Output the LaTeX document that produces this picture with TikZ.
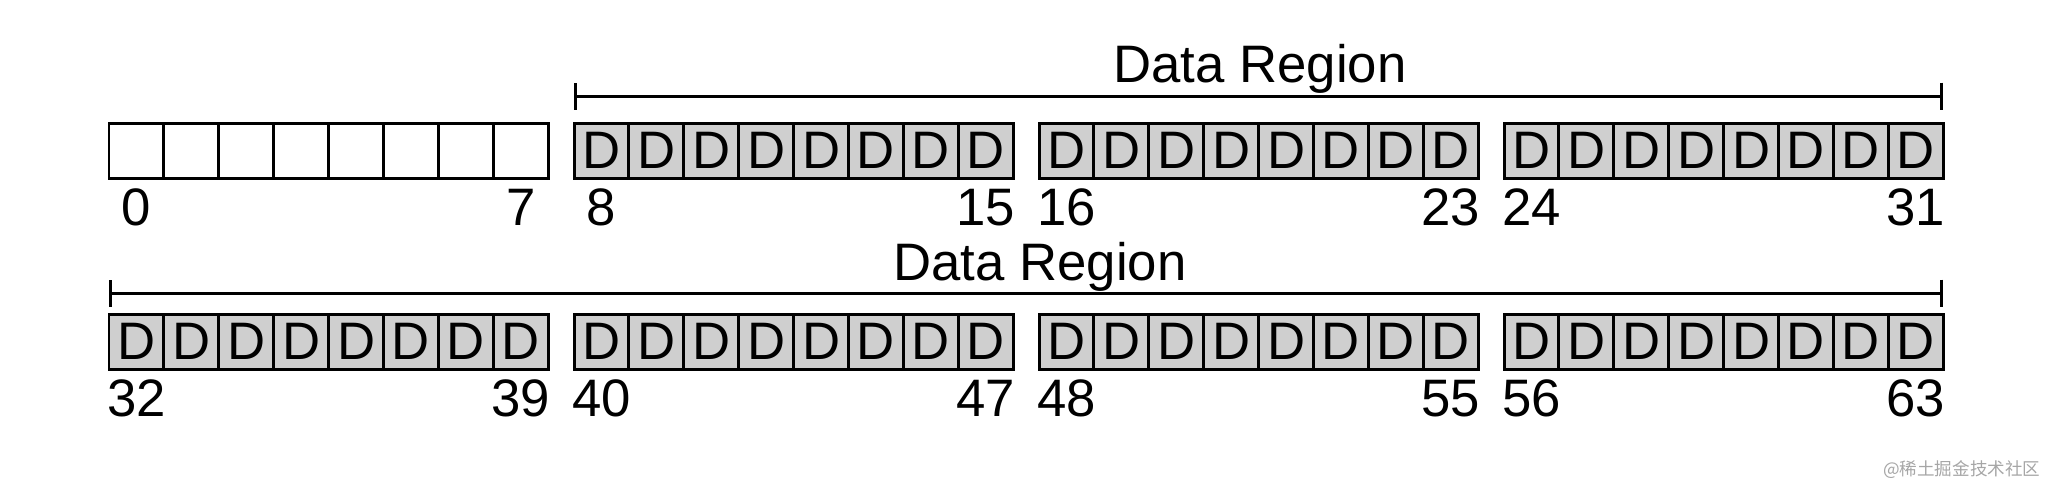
\documentclass[tikz,border=0pt]{standalone}
\usepackage{fontspec}
\setmainfont{Liberation Sans}
\newfontfamily\cjkfont{Noto Sans CJK SC}
\usetikzlibrary{arrows.meta}

\tikzset{
  cell/.style={draw, line width=0.85pt, minimum width=5.49mm, minimum height=5.5mm,
    inner sep=0pt, outer sep=0pt, font=\fontsize{15}{18}\selectfont},
  datacell/.style={cell, fill=black!19},
  emptycell/.style={cell, fill=white},
  idx/.style={anchor=base, inner sep=0pt, font=\fontsize{15}{18}\selectfont},
  region/.style={line width=0.85pt, {Bar[width=2.7mm]}-{Bar[width=2.7mm]}},
}

\begin{document}
\begin{tikzpicture}[x=0.1mm, y=-0.1mm]
    \useasboundingbox (0,0) rectangle (2048,486);

    % Blocks: two rows, four groups of eight
    \foreach \row/\y in {0/150.5, 1/341.5} {
        \foreach \g in {0,...,3} {
            \foreach \k in {0,...,7} {
                \pgfmathtruncatemacro{\n}{32*\row + 8*\g + \k}
                \pgfmathsetmacro{\xc}{136.45 + 465*\g + 54.9*\k}
                \ifnum\n<8
                    \node[emptycell] (c\n) at (\xc,\y) {};
                \else
                    \node[datacell] (c\n) at (\xc,\y) {D};
                \fi
                % first and last index of each group
                \ifnum\k=0 \node[idx] (l\n) at ([yshift=-4.75mm]c\n.south) {\n}; \fi
                \ifnum\k=7 \node[idx] (l\n) at ([yshift=-4.75mm]c\n.south) {\n}; \fi
            }
        }
    }

    % Data regions
    \coordinate (r1a) at ([yshift=2.7mm]c8.north west);
    \coordinate (r1b) at ([yshift=2.7mm]c31.north east);
    \draw[region] (r1a) -- (r1b);
    \node[idx] (t1) at (1260,82) {Data Region};

    \coordinate (r2a) at ([yshift=2.1mm]c32.north west);
    \coordinate (r2b) at ([yshift=2.1mm]c63.north east);
    \draw[region] (r2a) -- (r2b);
    \node[idx] (t2) at (1040,280) {Data Region};

    % watermark
    \node[anchor=base east, inner sep=0pt, text=black!35,
          font=\cjkfont\fontsize{5}{6}\selectfont] (wm) at (2041,475) {@稀土掘金技术社区};
\end{tikzpicture}
\end{document}
